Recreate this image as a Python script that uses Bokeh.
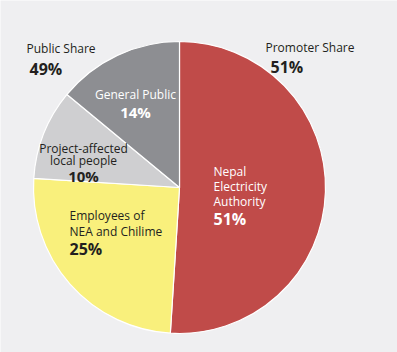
import math
from bokeh.plotting import figure
from bokeh.models import Range1d, ColumnDataSource
from bokeh.core.properties import value
from bokeh.embed import file_html
from bokeh.resources import INLINE

# data
slices = ["Nepal Electricity Authority", "Employees of NEA and Chilime",
          "Project-affected local people", "General Public"]
shares = [51, 25, 10, 14]
colors = ["#C04B49", "#F9F07C", "#CFCFD1", "#8D8E92"]
group_names = ["Promoter Share", "Public Share"]
group_shares = [51, 49]

W, H = 397, 352
BG = "#EFEFF1"
FONT = "Open Sans"

p = figure(width=W, height=H, x_range=Range1d(0, W), y_range=Range1d(0, H),
           output_backend="svg", toolbar_location=None, min_border=0)
p.axis.visible = False
p.grid.visible = False
p.outline_line_color = None
p.background_fill_color = BG
p.border_fill_color = BG

cx, cy, r = 179, H - 187, 146
total = sum(shares)
starts, ends = [], []
cum = 0
for s in shares:
    starts.append(math.pi / 2 - 2 * math.pi * cum / total)
    cum += s
    ends.append(math.pi / 2 - 2 * math.pi * cum / total)

src = ColumnDataSource(dict(start=starts, end=ends, color=colors))
p.wedge(x=cx, y=cy, radius=r, start_angle="start", end_angle="end",
        direction="clock", fill_color="color", line_color="white",
        line_width=1.2, source=src)


def txt(x, y, s, size, color="#231F20", bold=False, align="left"):
    p.text(x=[x], y=[H - y], text=[s], text_font=value(FONT),
           text_font_size=f"{size}px", text_color=color,
           text_font_style="bold" if bold else "normal",
           text_align=align, text_baseline="middle")


# group labels
txt(26, 48, group_names[1], 12)
txt(29, 68, f"{group_shares[1]}%", 16, bold=True)
txt(265, 47, group_names[0], 12)
txt(270, 66, f"{group_shares[0]}%", 16, bold=True)

# slice labels
txt(135, 94, "General Public", 12, color="white", align="center")
txt(135, 111, f"{shares[3]}%", 15, color="white", bold=True, align="center")

txt(83, 148, "Project-affected", 12, align="center")
txt(83, 160, "local people", 12, align="center")
txt(83, 175, f"{shares[2]}%", 15, bold=True, align="center")

txt(69, 215, "Employees of", 12)
txt(69, 231, "NEA and Chilime", 12)
txt(69, 248, f"{shares[1]}%", 16, bold=True)

txt(213, 171, "Nepal", 12, color="white")
txt(213, 186, "Electricity", 12, color="white")
txt(213, 201, "Authority", 12, color="white")
txt(213, 218, f"{shares[0]}%", 16, color="white", bold=True)

open("out.html", "w").write(file_html(p, INLINE))
